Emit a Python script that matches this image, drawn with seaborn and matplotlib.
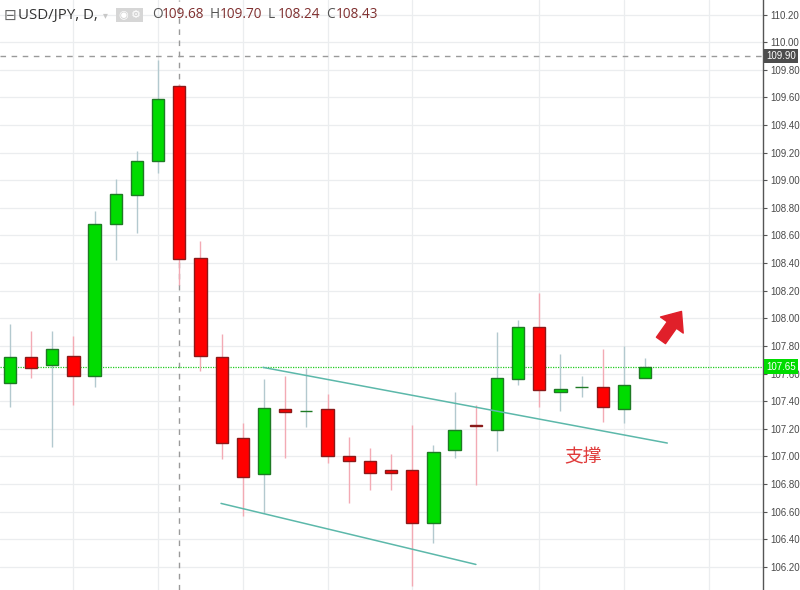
import numpy as np
import pandas as pd
import seaborn as sns
import matplotlib.pyplot as plt
import matplotlib.transforms as mtransforms

# USD/JPY daily candles left to right
opens  = [107.53, 107.72, 107.66, 107.73, 107.58, 108.68, 108.89, 109.14, 109.68, 108.44,
          107.72, 107.13, 106.87, 107.34, 107.33, 107.34, 107.00, 106.97, 106.90, 106.90,
          106.52, 107.05, 107.23, 107.19, 107.56, 107.94, 107.47, 107.50, 107.50, 107.34, 107.57]
highs  = [107.96, 107.91, 107.91, 107.87, 108.78, 109.01, 109.21, 109.87, 109.70, 108.56,
          107.89, 107.24, 107.56, 107.58, 107.64, 107.45, 107.14, 107.06, 107.02, 107.23,
          107.08, 107.47, 107.37, 107.90, 107.99, 108.18, 107.74, 107.58, 107.78, 107.80, 107.71]
lows   = [107.36, 107.57, 107.07, 107.37, 107.50, 108.42, 108.62, 109.05, 108.24, 107.62,
          106.98, 106.57, 106.59, 106.99, 107.21, 106.95, 106.66, 106.76, 106.76, 106.06,
          106.37, 106.99, 106.79, 107.04, 107.52, 107.36, 107.33, 107.43, 107.25, 107.24, 107.57]
closes = [107.72, 107.64, 107.78, 107.58, 108.68, 108.90, 109.14, 109.59, 108.43, 107.73,
          107.10, 106.85, 107.35, 107.32, 107.33, 107.00, 106.97, 106.88, 106.88, 106.52,
          107.03, 107.19, 107.22, 107.57, 107.94, 107.48, 107.49, 107.50, 107.36, 107.52, 107.65]

price_ticks = [106.2, 106.4, 106.6, 106.8, 107.0, 107.2, 107.4, 107.6, 107.8,
               108.0, 108.2, 108.4, 108.6, 108.8, 109.0, 109.2, 109.4, 109.6, 109.8, 110.0, 110.2]
grid_days = [3, 7, 11, 15, 19, 25, 29, 33]

last_price = 107.65
cross_day, cross_price = 8, 109.90
header_vals = [('O', '109.68'), ('H', '109.70'), ('L', '108.24'), ('C', '108.43')]

# trend lines drawn on the chart: (day, price) end points
upper_line = ([11.95, 31.05], [107.645, 107.097])
lower_line = ([9.97, 22.01], [106.66, 106.218])

df = pd.DataFrame({'open': opens, 'high': highs, 'low': lows, 'close': closes})
df['day'] = np.arange(len(df))
df['up'] = df['close'] >= df['open']

sns.set_theme(style='white')
plt.rcParams['font.family'] = ['Liberation Sans', 'Noto Sans CJK SC', 'DejaVu Sans']

fig = plt.figure(figsize=(8, 5.9), dpi=100)
ax = fig.add_axes([0, 0, 763 / 800, 1])

green, green_edge = '#00dc00', '#1e7a24'
red, red_edge = '#ff0000', '#8a1a1a'
wick_up, wick_dn = '#b3c9cf', '#f3aab4'

# wicks
ax.vlines(df['day'], df['low'], df['high'],
          colors=np.where(df['up'], wick_up, wick_dn), lw=1, zorder=2)
# bodies
body_lo = df[['open', 'close']].min(axis=1)
body_h = (df['close'] - df['open']).abs()
ax.bar(df['day'], body_h, bottom=body_lo, width=0.58,
       color=np.where(df['up'], green, red),
       edgecolor=np.where(df['up'], green_edge, red_edge), linewidth=1, zorder=3)

# trend lines
for xs, ys in (upper_line, lower_line):
    sns.lineplot(x=xs, y=ys, ax=ax, color='#5cb8aa', lw=1.1, zorder=4)

# crosshair + last price line
ax.axvline(cross_day, color='#9a9a9a', ls=(0, (4, 4)), lw=1, zorder=1)
ax.axhline(cross_price, color='#9a9a9a', ls=(0, (4, 4)), lw=1, zorder=1)
ax.axhline(last_price, color='#22cc22', ls=(0, (1, 1)), lw=0.9, zorder=1)

ax.set_xlim(-0.47, 35.57)
ax.set_ylim(106.033, 110.305)

ax.set_yticks(price_ticks)
ax.set_yticklabels([f'{t:.2f}' for t in price_ticks])
ax.yaxis.tick_right()
ax.tick_params(axis='y', right=True, length=3, width=0.8, color='#555555',
               labelsize=7, labelcolor='#4a4a4a', pad=2)
ax.set_xticks(grid_days)
ax.tick_params(axis='x', length=0, labelbottom=False)
ax.grid(axis='y', color='#ebedef', lw=0.9)
ax.grid(axis='x', color='#ebedef', lw=0.9)
ax.set_axisbelow(True)
for s in ['top', 'left', 'bottom']:
    ax.spines[s].set_visible(False)
ax.spines['right'].set_color('#555555')
ax.spines['right'].set_linewidth(1)

# price tags on the axis
trans = mtransforms.blended_transform_factory(ax.transAxes, ax.transData)
ax.text(1.004, cross_price, f'{cross_price:.2f}', transform=trans, ha='left', va='center',
        fontsize=7, color='white', clip_on=False, zorder=6,
        bbox=dict(boxstyle='square,pad=0.25', fc='#4d4d4d', ec='none'))
ax.text(1.004, last_price, f'{last_price:.2f}', transform=trans, ha='left', va='center',
        fontsize=7, color='white', clip_on=False, zorder=6,
        bbox=dict(boxstyle='square,pad=0.25', fc='#00dc00', ec='none'))

# annotation
ax.text(27.07, 107.0, '支撑', ha='center', va='center', fontsize=13.5,
        color='#e03a3a', family=['Noto Sans CJK SC', 'DejaVu Sans'])
ax.annotate('', xy=(31.72, 108.05), xytext=(30.75, 107.84),
            arrowprops=dict(arrowstyle='simple,head_width=1.0,head_length=0.6,tail_width=0.4',
                            color='#e0202a', shrinkA=0, shrinkB=0, mutation_scale=20))

# header
ty = 1 - 15 / 590
fig.text(4 / 800, ty, '⊟', fontsize=11, color='#666666', va='center',
         family=['DejaVu Sans'])
fig.text(18 / 800, ty, 'USD/JPY, D,', fontsize=10.8, color='#333333', va='center',
         family=['Open Sans', 'DejaVu Sans'])
fig.text(103 / 800, ty, '▾', fontsize=7, color='#c8c8c8', va='center', family=['DejaVu Sans'])
fig.text(118 / 800, ty, '◉', fontsize=8, color='white', va='center', family=['DejaVu Sans'],
         bbox=dict(boxstyle='square,pad=0.15', fc='#d6d6d6', ec='none'))
fig.text(131 / 800, ty, '⚙', fontsize=8, color='white', va='center', family=['DejaVu Sans'],
         bbox=dict(boxstyle='square,pad=0.15', fc='#d6d6d6', ec='none'))
hx = [152, 210, 268, 326]
for x0, (lab, val) in zip(hx, header_vals):
    fig.text(x0 / 800, ty, lab, fontsize=9.8, color='#555555', va='center',
             family=['Open Sans', 'DejaVu Sans'])
    fig.text((x0 + 10) / 800, ty, val, fontsize=9.8, color='#7f2f2f', va='center',
             family=['Open Sans', 'DejaVu Sans'])

fig.savefig('out.png', dpi=100)
